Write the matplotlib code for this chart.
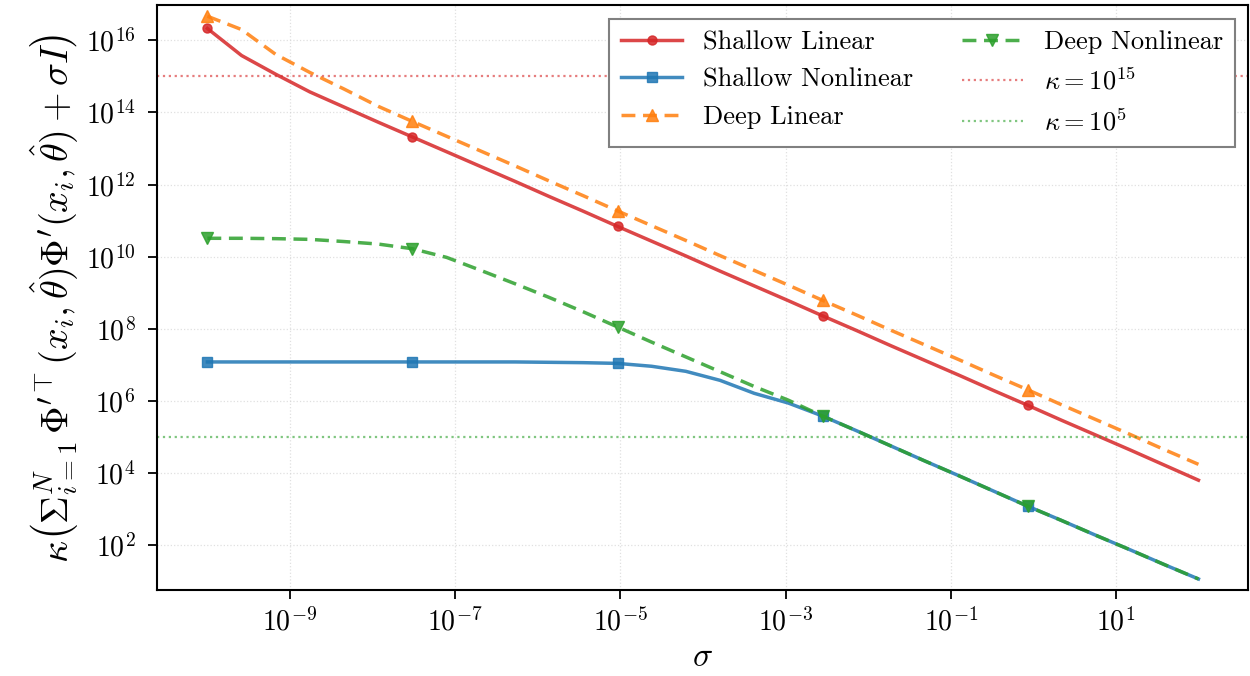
import numpy as np
import matplotlib
matplotlib.use('Agg')
import matplotlib.pyplot as plt

# --- dados (log10 dos valores) ---
log_sigma = [-10.0, -9.586, -9.172, -8.759, -8.345, -7.931, -7.517, -7.103, -6.690, -6.276,
             -5.862, -5.448, -5.034, -4.621, -4.207, -3.793, -3.379, -2.966, -2.552, -2.138,
             -1.724, -1.310, -0.897, -0.483, -0.069, 0.345, 0.759, 1.172, 1.586, 2.0]

shallow_linear = [16.33, 15.58, 15.06, 14.57, 14.15, 13.73, 13.32, 12.91, 12.50, 12.09,
                  11.67, 11.26, 10.84, 10.43, 10.02, 9.60, 9.19, 8.78, 8.36, 7.95,
                  7.53, 7.12, 6.71, 6.29, 5.88, 5.46, 5.05, 4.64, 4.22, 3.80]
shallow_nonlinear = [7.08, 7.08, 7.08, 7.08, 7.08, 7.08, 7.08, 7.08, 7.08, 7.08,
                     7.07, 7.06, 7.04, 6.96, 6.82, 6.57, 6.21, 5.94, 5.58, 5.17,
                     4.75, 4.33, 3.92, 3.50, 3.08, 2.68, 2.27, 1.87, 1.46, 1.06]
deep_linear = [16.67, 16.30, 15.61, 15.11, 14.65, 14.17, 13.75, 13.34, 12.93, 12.52,
               12.10, 11.69, 11.27, 10.86, 10.45, 10.03, 9.62, 9.21, 8.79, 8.38,
               7.96, 7.55, 7.14, 6.72, 6.31, 5.89, 5.48, 5.07, 4.65, 4.24]
deep_nonlinear = [10.51, 10.51, 10.50, 10.48, 10.42, 10.35, 10.22, 9.98, 9.62, 9.25,
                  8.87, 8.47, 8.05, 7.63, 7.22, 6.81, 6.40, 6.02, 5.58, 5.17,
                  4.75, 4.33, 3.92, 3.50, 3.08, 2.68, 2.27, 1.87, 1.46, 1.06]

kappa_lines = [1e15, 1e5]
xticks = [1e-9, 1e-7, 1e-5, 1e-3, 1e-1, 1e1]
yticks = [1e2, 1e4, 1e6, 1e8, 1e10, 1e12, 1e14, 1e16]

# --- estilo ---
plt.rcParams['font.family'] = 'serif'
plt.rcParams['font.serif'] = ['cmr10', 'DejaVu Serif']
plt.rcParams['mathtext.fontset'] = 'cm'
plt.rcParams['axes.formatter.use_mathtext'] = True
plt.rcParams['axes.unicode_minus'] = True

sigma = 10.0 ** np.array(log_sigma)

fig = plt.figure(figsize=(12.5, 6.76), dpi=100)
ax = fig.add_axes([0.1256, 0.127, 0.8728, 0.865])

lw = 2.5
dash = (4, 2.2)
ax.plot(sigma, 10.0 ** np.array(shallow_linear), color='tab:red', alpha=0.85, lw=lw,
        marker='o', markersize=6.5, markevery=6, label='Shallow Linear')
ax.plot(sigma, 10.0 ** np.array(shallow_nonlinear), color='tab:blue', alpha=0.85, lw=lw,
        marker='s', markersize=6.5, markevery=6, label='Shallow Nonlinear')
ax.plot(sigma, 10.0 ** np.array(deep_linear), color='tab:orange', alpha=0.85, lw=lw,
        ls='--', dashes=dash, marker='^', markersize=8, markevery=6, label='Deep Linear')
ax.plot(sigma, 10.0 ** np.array(deep_nonlinear), color='tab:green', alpha=0.85, lw=lw,
        ls='--', dashes=dash, marker='v', markersize=8, markevery=6, label='Deep Nonlinear')
ax.axhline(kappa_lines[0], color='tab:red', ls=':', lw=1.6, alpha=0.6, label=r'$\kappa=10^{15}$')
ax.axhline(kappa_lines[1], color='tab:green', ls=':', lw=1.6, alpha=0.6, label=r'$\kappa=10^{5}$')

ax.set_xscale('log')
ax.set_yscale('log')
ax.set_xlim(10 ** -10.61, 10 ** 2.6)
ax.set_ylim(10 ** 0.75, 10 ** 16.97)
ax.set_xticks(xticks)
ax.set_yticks(yticks)
ax.minorticks_off()
ax.tick_params(labelsize=20, length=6.5, width=1.3, direction='out')
ax.tick_params(axis='y', pad=9)
ax.tick_params(axis='x', pad=6)
ax.grid(True, ls=':', color='lightgray', alpha=0.7, lw=0.9)
for s in ax.spines.values():
    s.set_linewidth(1.5)

ax.set_xlabel(r'$\sigma$', fontsize=24, labelpad=5)
ax.set_ylabel(r"$\kappa\left(\Sigma_{i=1}^{N}\,\Phi^{\prime\top}(x_i,\hat{\theta})\Phi^{\prime}(x_i,\hat{\theta})+\sigma I\right)$",
              fontsize=27.5, labelpad=4)

leg = ax.legend(loc='upper right', ncol=2, fontsize=19, fancybox=False, framealpha=1,
                edgecolor='gray', borderpad=0.45, columnspacing=1.85, handlelength=2.3,
                handletextpad=0.8, labelspacing=0.52, borderaxespad=0.5)
leg.get_frame().set_linewidth(1.5)

fig.savefig('out.png', dpi=100)
